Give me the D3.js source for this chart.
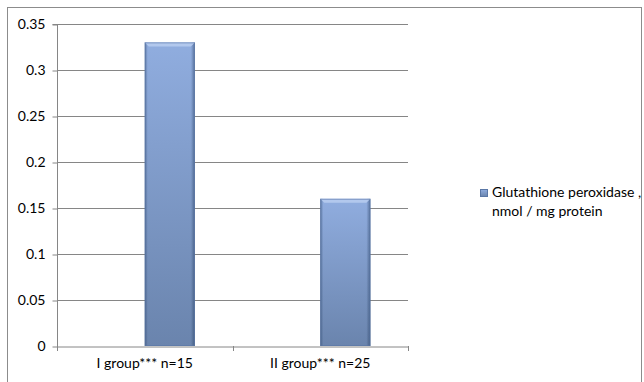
<!DOCTYPE html>
<html><head><meta charset="utf-8">
<script src="https://cdn.jsdelivr.net/npm/d3@7"></script>
<style>body{margin:0;background:#fff}svg{display:block;font-family:Lato,"Open Sans",sans-serif}</style>
</head><body><svg id="c" width="644" height="382"></svg>
<script>
const categories = ["I group*** n=15", "II group*** n=25"];
const seriesNames = ["", "Glutathione peroxidase , nmol / mg protein"];
const values = [[null, null], [0.33, 0.16]];
const yTicks = [0, 0.05, 0.1, 0.15, 0.2, 0.25, 0.3, 0.35];
const legendLines = ["Glutathione peroxidase ,", "nmol / mg protein"];

(function(){
const svg = d3.select("#c");
const defs = svg.append("defs");
const g1 = defs.append("linearGradient").attr("id","gv").attr("x1",0).attr("y1",0).attr("x2",0).attr("y2",1);
g1.append("stop").attr("offset","0%").attr("stop-color","#90addf");
g1.append("stop").attr("offset","100%").attr("stop-color","#6a84ad");
const g2 = defs.append("linearGradient").attr("id","gh").attr("x1",0).attr("y1",0).attr("x2",1).attr("y2",0);
g2.append("stop").attr("offset","0%").attr("stop-color","#1f3658").attr("stop-opacity",0.45);
g2.append("stop").attr("offset","6%").attr("stop-color","#1f3658").attr("stop-opacity",0.0);
g2.append("stop").attr("offset","92%").attr("stop-color","#1f3658").attr("stop-opacity",0.0);
g2.append("stop").attr("offset","100%").attr("stop-color","#1f3658").attr("stop-opacity",0.5);

svg.append("rect").attr("x",7.5).attr("y",7.5).attr("width",634).attr("height",390)
  .attr("fill","none").attr("stroke","#8c8c8c");

const pL = 57, pR = 408, pT = 24, pB = 346;
const fs = 14;
const y = d3.scaleLinear().domain([0,0.35]).range([pB, pT]);
const x = d3.scaleBand().domain(categories).range([pL, pR]);
const bw = x.bandwidth();
const barW = bw/(seriesNames.length+1.5);
const off0 = (bw - barW*seriesNames.length)/2;

svg.append("g").selectAll("line").data(yTicks.slice(1)).join("line")
  .attr("x1",pL).attr("x2",pR).attr("y1",d=>Math.round(y(d))+0.5).attr("y2",d=>Math.round(y(d))+0.5)
  .attr("stroke","#868686").attr("stroke-width",1);

const ya = svg.append("g").attr("transform",`translate(${pL+0.5},0.5)`)
  .call(d3.axisLeft(y).tickValues(yTicks).tickSize(5).tickPadding(7).tickFormat(d=>String(d)));
ya.select(".domain").attr("stroke","#868686").attr("d",`M-5,${pT}H0V${pB}`);
ya.selectAll(".tick line").attr("stroke","#868686");
ya.selectAll(".tick text").attr("font-size",fs).attr("fill","#000").attr("font-family","Lato,'Open Sans',sans-serif");

values.forEach((ser, si) => {
  const gb = svg.append("g");
  categories.forEach((c, ci) => {
    const v = ser[ci];
    if (v == null) return;
    const bx = x(c) + off0 + si*barW;
    const by = y(v), bh = y(0) - y(v);
    gb.append("rect").attr("x",bx).attr("y",by).attr("width",barW).attr("height",bh).attr("fill","url(#gv)");
    gb.append("rect").attr("x",bx).attr("y",by).attr("width",barW).attr("height",bh).attr("fill","url(#gh)");
    gb.append("path").attr("d",`M${bx},${by}H${bx+barW}L${bx+barW-4},${by+4}H${bx+4}Z`).attr("fill","#b6cbee").attr("opacity",0.9);
    gb.append("rect").attr("x",bx+0.5).attr("y",by+0.5).attr("width",barW-1).attr("height",bh-1)
      .attr("fill","none").attr("stroke","#5a77a6").attr("stroke-width",1).attr("opacity",0.6);
  });
});

const xa = svg.append("g").attr("transform",`translate(0,${pB+0.5})`)
  .call(d3.axisBottom(x).tickSize(0).tickPadding(12));
xa.select(".domain").attr("stroke","#868686");
xa.selectAll(".tick text").attr("font-size",fs).attr("fill","#000").attr("font-family","Lato,'Open Sans',sans-serif");
const xt = [pL].concat(categories.map(c=>x(c)+bw));
svg.append("g").selectAll("line").data(xt).join("line")
  .attr("x1",d=>Math.round(d)+0.5).attr("x2",d=>Math.round(d)+0.5).attr("y1",pB).attr("y2",pB+5)
  .attr("stroke","#868686");

const lg = svg.append("g");
lg.append("rect").attr("x",480.5).attr("y",189.5).attr("width",7).attr("height",7)
  .attr("fill","url(#gv)").attr("stroke","#5a77a6");
lg.selectAll("text").data(legendLines).join("text")
  .attr("x",492).attr("y",(d,i)=>197+i*19).attr("font-size",fs).attr("fill","#000").text(d=>d);
})();
</script></body></html>
